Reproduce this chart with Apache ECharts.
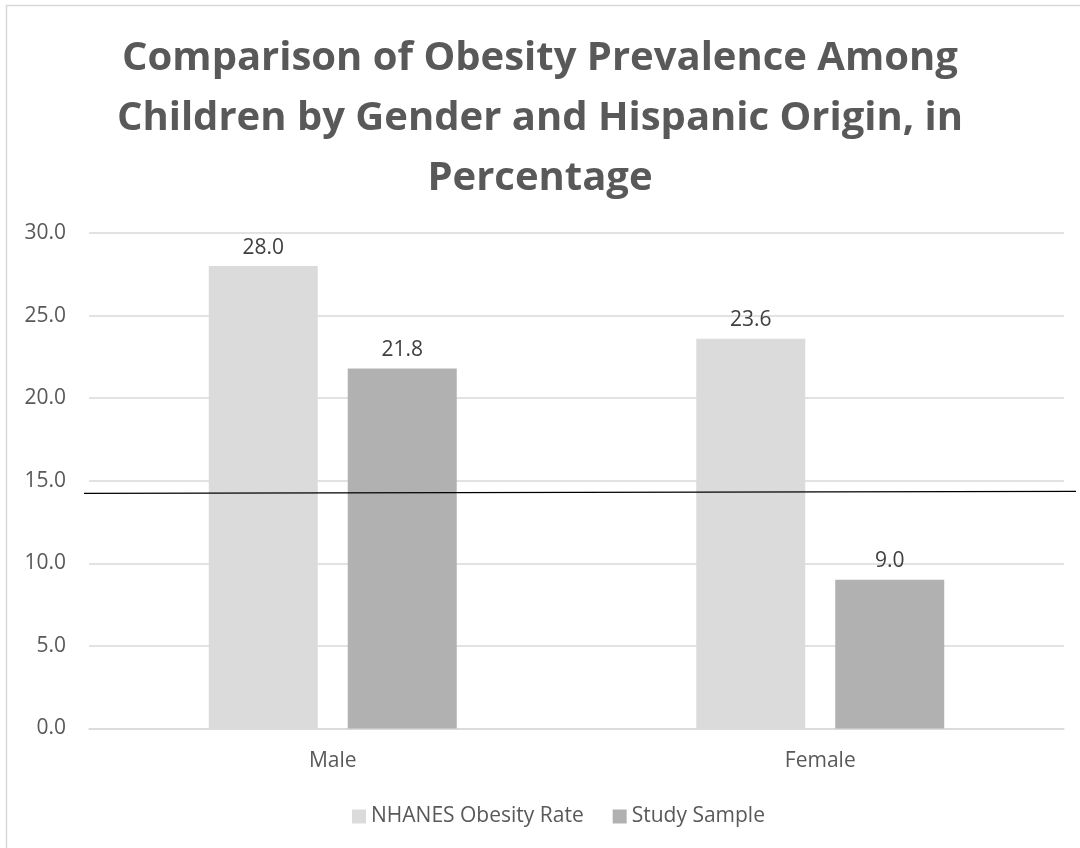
<!DOCTYPE html>
<html>
<head>
<meta charset="utf-8">
<title>Obesity Prevalence Among Children</title>
<script src="https://cdn.jsdelivr.net/npm/echarts@6/dist/echarts.min.js"></script>
<style>
  html, body { margin: 0; padding: 0; background: #ffffff; }
  #chart { width: 1080px; height: 848px; }
</style>
</head>
<body>
<div id="chart"></div>
<script>
// Chart data
const categories = ['Male', 'Female'];
const nhanesRate = [28.0, 23.6];
const studySample = [21.8, 9.0];
const seriesNames = ['NHANES Obesity Rate', 'Study Sample'];
const titleText = 'Comparison of Obesity Prevalence Among\nChildren by Gender and Hispanic Origin, in\nPercentage';

const FONT = '"Open Sans", "Noto Sans", sans-serif';
const chart = echarts.init(document.getElementById('chart'), null, { renderer: 'canvas' });

const barLabel = {
  show: true,
  position: 'top',
  distance: 8,
  color: '#404040',
  fontFamily: FONT,
  fontSize: 21,
  formatter: p => p.value.toFixed(1)
};

chart.setOption({
  backgroundColor: '#ffffff',
  animation: false,
  title: {
    text: titleText,
    left: 'center',
    top: 24,
    textStyle: {
      color: '#595959',
      fontFamily: FONT,
      fontWeight: 'bold',
      fontSize: 40,
      lineHeight: 60
    }
  },
  legend: {
    data: seriesNames,
    left: 347,
    top: 801,
    itemWidth: 14,
    itemHeight: 14,
    itemGap: 29,
    icon: 'rect',
    textStyle: { color: '#595959', fontFamily: FONT, fontSize: 21 }
  },
  grid: { left: 89, right: 16, top: 233, bottom: 119.5 },
  xAxis: {
    type: 'category',
    data: categories,
    axisLine: { show: true, lineStyle: { color: '#D9D9D9', width: 1.5 } },
    axisTick: { show: false },
    axisLabel: { color: '#595959', fontFamily: FONT, fontSize: 21, margin: 22 }
  },
  yAxis: {
    type: 'value',
    min: 0,
    max: 30,
    interval: 5,
    axisLine: { show: false },
    axisTick: { show: false },
    splitLine: { lineStyle: { color: '#D9D9D9', width: 1.5 } },
    axisLabel: {
      color: '#595959', fontFamily: FONT, fontSize: 21, margin: 23,
      formatter: v => v.toFixed(1)
    }
  },
  series: [
    {
      name: seriesNames[0],
      type: 'bar',
      data: nhanesRate,
      barWidth: 109,
      barGap: '27.5%',
      itemStyle: { color: '#DBDBDB' },
      label: barLabel
    },
    {
      name: seriesNames[1],
      type: 'bar',
      data: studySample,
      barWidth: 109,
      barGap: '27.5%',
      itemStyle: { color: '#B1B1B1' },
      label: barLabel
    }
  ],
  graphic: [
    {
      type: 'rect',
      shape: { x: 6.5, y: 5.5, width: 1200, height: 1000 },
      style: { fill: 'none', stroke: '#D9D9D9', lineWidth: 1.5 },
      silent: true,
      z: 0
    },
    {
      type: 'line',
      shape: { x1: 84, y1: 493.3, x2: 1076, y2: 491.3 },
      style: { stroke: '#000000', lineWidth: 1.2 },
      silent: true,
      z: 100
    }
  ]
});
</script>
</body>
</html>
